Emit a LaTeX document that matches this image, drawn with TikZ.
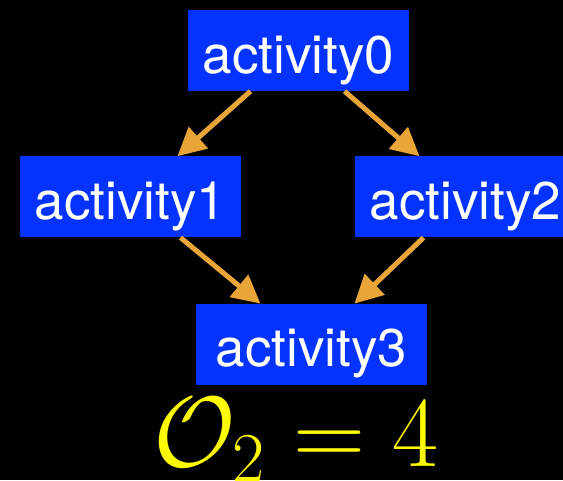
\RequirePackage{fix-cm}
\documentclass[tikz,border=0pt]{standalone}
\usepackage{fontspec}
\setmainfont{TeX Gyre Heros}
\usepackage{amsmath}
\usetikzlibrary{arrows.meta, positioning}
\definecolor{kblue}{RGB}{4,51,255}
\definecolor{korange}{RGB}{234,165,56}
\definecolor{kyellow}{RGB}{255,251,0}
\begin{document}
\begin{tikzpicture}[x=1pt, y=1pt,
  act/.style={rectangle, fill=kblue, text=white, minimum width=221pt, minimum height=81pt, inner sep=0pt, text height=48pt, text depth=3pt, font=\fontsize{53}{60}\selectfont},
  arr/.style={-{Triangle[length=28pt, width=28pt]}, line width=5pt, draw=korange}
]
\fill[black] (0,0) rectangle (563,-480);
\useasboundingbox (0,0) rectangle (563,-480);
\node[act] (a0) at (298.5,-50.5) {activity0};
\node[act, below=65pt of a0, xshift=-168pt] (a1) {activity1};
\node[act, below=65pt of a0, xshift=167pt] (a2) {activity2};
\node[act, below=66pt of a1, xshift=181pt, minimum width=231pt] (a3) {activity3};
\node[text=kyellow, inner sep=0pt, anchor=base, font=\fontsize{100}{104}\selectfont] (o2) at (296,-466) {$\mathcal{O}_2 = 4$};
\draw[arr] ([xshift=-48pt]a0.south) -- ([xshift=47pt]a1.north);
\draw[arr] ([xshift=46pt]a0.south) -- ([xshift=-46pt]a2.north);
\draw[arr] ([xshift=50pt]a1.south) -- ([xshift=-51pt]a3.north);
\draw[arr] ([xshift=-42pt]a2.south) -- ([xshift=43pt]a3.north);
\end{tikzpicture}
\end{document}
